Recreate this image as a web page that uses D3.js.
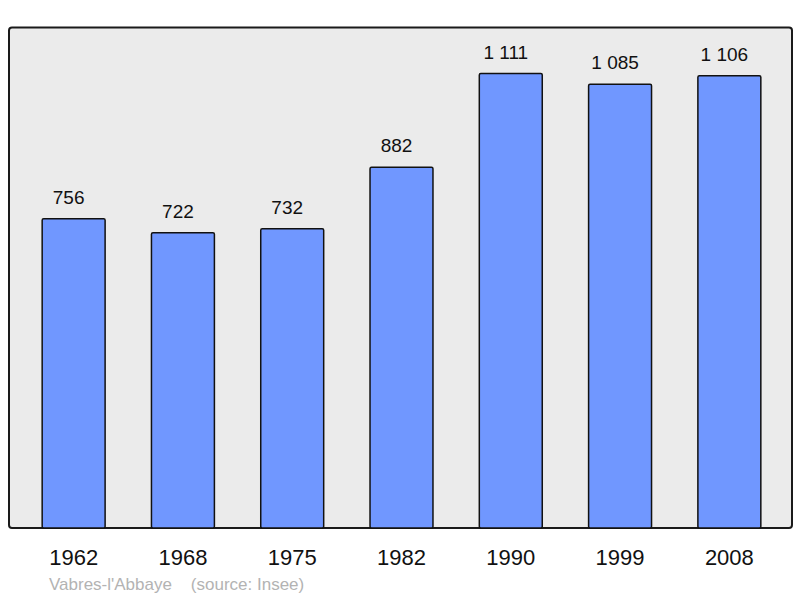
<!DOCTYPE html>
<html>
<head>
<meta charset="utf-8">
<script src="https://cdn.jsdelivr.net/npm/d3@7"></script>
<style>
  body { margin: 0; background: #fff; }
  text { font-family: "Liberation Sans", Arial, sans-serif; }
</style>
</head>
<body>
<script>
// population data
var years = ["1962", "1968", "1975", "1982", "1990", "1999", "2008"];
var population = [756, 722, 732, 882, 1111, 1085, 1106];
var valueLabels = ["756", "722", "732", "882", "1 111", "1 085", "1 106"];

var width = 800, height = 598;

var svg = d3.select("body").append("svg")
  .attr("width", width)
  .attr("height", height);

// frame
svg.append("rect")
  .attr("x", 9)
  .attr("y", 27.5)
  .attr("width", 783)
  .attr("height", 500.5)
  .attr("rx", 3)
  .attr("ry", 3)
  .style("fill", "#ebebeb")
  .style("stroke", "#1a1a1a")
  .style("stroke-width", 2);

var x = d3.scaleBand()
  .domain(years)
  .range([19, 784])
  .paddingInner(0.424)
  .paddingOuter(0.212);

var y = d3.scaleLinear()
  .domain([0, 1225])
  .range([528, 27]);

var bars = svg.append("g");
bars.selectAll("rect")
  .data(years)
  .enter().append("rect")
  .attr("x", function(d) { return x(d); })
  .attr("y", function(d, i) { return y(population[i]); })
  .attr("width", x.bandwidth())
  .attr("height", function(d, i) { return y(0) - y(population[i]); })
  .attr("rx", 1.5)
  .style("fill", "#7097ff")
  .style("stroke", "#111")
  .style("stroke-width", 1.5);

// value labels above bars (sit a little left of bar centre, as in the source)
svg.append("g").selectAll("text")
  .data(years)
  .enter().append("text")
  .attr("x", function(d) { return x(d) + x.bandwidth() / 2 - 5; })
  .attr("y", function(d, i) { return y(population[i]) - 15; })
  .attr("text-anchor", "middle")
  .style("font-size", "19px")
  .style("fill", "#111")
  .text(function(d, i) { return valueLabels[i]; });

// year axis
var xAxis = svg.append("g")
  .attr("transform", "translate(0,528)")
  .call(d3.axisBottom(x).tickSize(0).tickPadding(21));
xAxis.select(".domain").remove();
xAxis.selectAll("text")
  .style("font-size", "22px")
  .style("font-family", "Liberation Sans, Arial, sans-serif")
  .style("fill", "#111");

// source
svg.append("text")
  .attr("x", 49)
  .attr("y", 590)
  .style("font-size", "17px")
  .style("fill", "#b3b3b3")
  .text("Vabres-l'Abbaye\u00a0\u00a0\u00a0\u00a0(source: Insee)");
</script>
</body>
</html>
